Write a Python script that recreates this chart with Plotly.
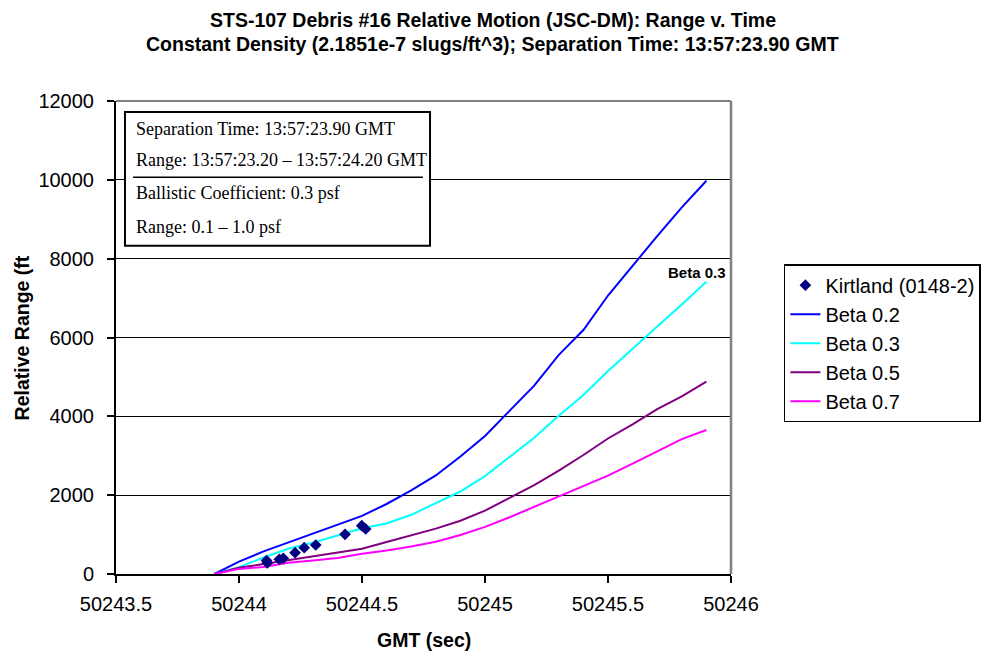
import plotly.graph_objects as go

# Model time grid (GMT seconds), 0.1 s steps from separation
model_t = [50243.9, 50244.0, 50244.1, 50244.2, 50244.3, 50244.4, 50244.5,
           50244.6, 50244.7, 50244.8, 50244.9, 50245.0, 50245.1, 50245.2,
           50245.3, 50245.4, 50245.5, 50245.6, 50245.7, 50245.8, 50245.9]

# Relative range (ft) for each ballistic coefficient
beta_02 = [0, 312, 573, 797, 1017, 1246, 1476, 1776, 2121, 2501, 2983,
           3501, 4135, 4780, 5559, 6190, 7065, 7824, 8572, 9300, 9978]
beta_03 = [0, 175, 419, 640, 794, 977, 1159, 1281, 1502, 1799, 2093,
           2484, 2983, 3458, 4016, 4541, 5148, 5721, 6279, 6840, 7416]
beta_05 = [0, 157, 254, 355, 457, 558, 642, 812, 977, 1152, 1350,
           1606, 1931, 2253, 2623, 3019, 3438, 3798, 4183, 4506, 4879]
beta_07 = [0, 130, 180, 284, 345, 408, 512, 596, 700, 817, 989,
           1195, 1441, 1705, 1966, 2215, 2494, 2798, 3110, 3422, 3653]

# Kirtland (0148-2) observations
kirt_t = [50244.112, 50244.115, 50244.164, 50244.180, 50244.228,
          50244.265, 50244.312, 50244.431, 50244.499, 50244.515]
kirt_r = [340, 280, 372, 398, 541, 668, 736, 1007, 1225, 1142]

x_ticks = [50243.5, 50244, 50244.5, 50245, 50245.5, 50246]
x_tick_text = ["50243.5", "50244", "50244.5", "50245", "50245.5", "50246"]
y_ticks = [0, 2000, 4000, 6000, 8000, 10000, 12000]
y_tick_text = ["0", "2000", "4000", "6000", "8000", "10000", "12000"]

series = [
    ("Beta 0.2", beta_02, "#0000FF"),
    ("Beta 0.3", beta_03, "#00FFFF"),
    ("Beta 0.5", beta_05, "#800080"),
    ("Beta 0.7", beta_07, "#FF00FF"),
]

title_lines = [
    "STS-107 Debris #16 Relative Motion (JSC-DM): Range v. Time",
    "Constant Density (2.1851e-7 slugs/ft^3); Separation Time: 13:57:23.90 GMT",
]

info_lines = [
    "Separation Time: 13:57:23.90 GMT",
    "Range: 13:57:23.20 \u2013 13:57:24.20 GMT",
    "Ballistic Coefficient: 0.3 psf",
    "Range: 0.1 \u2013 1.0 psf",
]

ARIAL = "Arial, Liberation Sans, sans-serif"
TIMES = "Times New Roman, Liberation Serif, serif"

fig = go.Figure()

for rank, (name, vals, color) in enumerate(series, start=2):
    fig.add_trace(go.Scatter(
        x=model_t, y=vals, mode="lines", name=name,
        line=dict(color=color, width=2), legendrank=rank,
    ))

fig.add_trace(go.Scatter(
    x=kirt_t, y=kirt_r, mode="markers", name="Kirtland (0148-2)",
    marker=dict(symbol="diamond", size=9, color="#000080"),
    legendrank=1,
))

# Curve label at the end of the Beta 0.3 trajectory
fig.add_annotation(
    x=50245.86, y=7650, xref="x", yref="y", text="<b>Beta 0.3</b>",
    showarrow=False, font=dict(family=ARIAL, size=15, color="black"),
    xanchor="center", yanchor="middle",
)

# Two-line chart title
for text, ypos in zip(title_lines, [1.171, 1.1205]):
    fig.add_annotation(
        x=0.6122, y=ypos, xref="paper", yref="paper", text=f"<b>{text}</b>",
        showarrow=False, xanchor="center", yanchor="middle",
        font=dict(family=ARIAL, size=19.5, color="black"),
    )

# Info box in the upper-left of the plot area
fig.add_shape(type="rect", xref="paper", yref="paper",
              x0=0.0146, x1=0.5106, y0=0.694, y1=0.977,
              fillcolor="white", line=dict(color="black", width=2), layer="above")
fig.add_shape(type="line", xref="paper", yref="paper",
              x0=0.0276, x1=0.499, y0=0.8387, y1=0.8387,
              line=dict(color="black", width=1.5), layer="above")
for text, ypos in zip(info_lines, [0.9408, 0.8753, 0.8055, 0.7336]):
    fig.add_annotation(
        x=0.0300, y=ypos, xref="paper", yref="paper", text=text,
        showarrow=False, xanchor="left", yanchor="middle",
        font=dict(family=TIMES, size=18, color="black"),
    )

# Grey plot-area border on top and right
fig.add_shape(type="line", xref="paper", yref="paper", x0=0, x1=1, y0=1, y1=1,
              line=dict(color="#808080", width=2))
fig.add_shape(type="line", xref="paper", yref="paper", x0=1, x1=1, y0=0, y1=1,
              line=dict(color="#808080", width=2.5))

# Axis titles
fig.add_annotation(
    x=-0.153, y=0.5, xref="paper", yref="paper",
    text="<b>Relative Range (ft</b>", textangle=-90, showarrow=False,
    font=dict(family=ARIAL, size=19.5, color="black"),
    xanchor="center", yanchor="middle",
)
fig.add_annotation(
    x=0.5, y=-0.1395, xref="paper", yref="paper",
    text="<b>GMT (sec)</b>", showarrow=False,
    font=dict(family=ARIAL, size=19.5, color="black"),
    xanchor="center", yanchor="middle",
)

fig.update_layout(
    width=985, height=655,
    margin=dict(l=116, r=254, t=101, b=81, autoexpand=False),
    paper_bgcolor="white", plot_bgcolor="white",
    font=dict(family=ARIAL, size=20, color="black"),
    showlegend=True,
    legend=dict(
        x=1.086, y=0.655, xref="paper", yref="paper",
        xanchor="left", yanchor="top",
        bordercolor="black", borderwidth=1.5, bgcolor="white",
        font=dict(family=ARIAL, size=20, color="black"),
        tracegroupgap=0, itemwidth=30,
    ),
    xaxis=dict(
        range=[50243.5, 50246], tickvals=x_ticks, ticktext=x_tick_text,
        showgrid=False, zeroline=False, showline=True,
        linecolor="black", linewidth=2,
        ticks="outside", ticklen=7, tickwidth=1.5, tickcolor="black",
        ticklabelstandoff=4,
        tickfont=dict(family=ARIAL, size=20, color="black"),
    ),
    yaxis=dict(
        range=[0, 12000], tickvals=y_ticks, ticktext=y_tick_text,
        showgrid=True, gridcolor="black", gridwidth=1.3,
        zeroline=False, showline=True, linecolor="black", linewidth=2,
        ticks="outside", ticklen=7, tickwidth=1.5, tickcolor="black",
        ticklabelstandoff=9,
        tickfont=dict(family=ARIAL, size=20, color="black"),
    ),
)

fig.write_html("out.html")
